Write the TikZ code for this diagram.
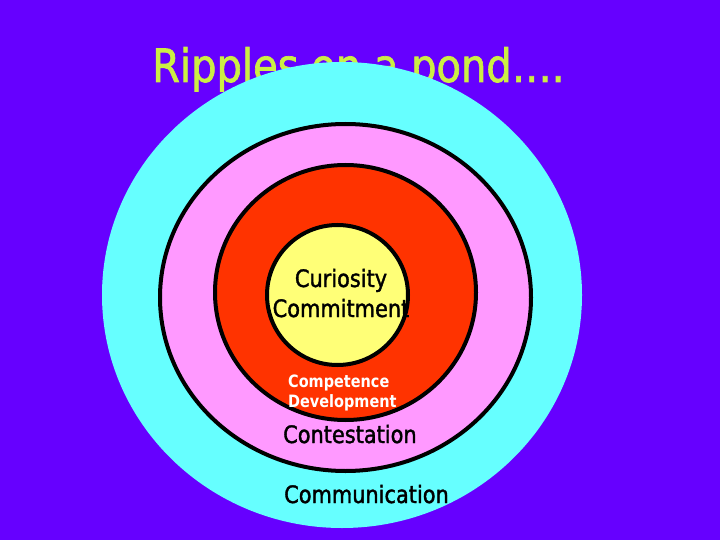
\documentclass[tikz,border=0pt]{standalone}
\usepackage{fontspec}
\setmainfont{DejaVu Sans}
\newfontfamily\comicfont[FakeStretch=0.87,FakeBold=1.5]{DejaVu Sans}
\newfontfamily\comicbf[FakeStretch=0.85]{DejaVu Sans}
\definecolor{bgpurple}{HTML}{6600FF}
\definecolor{titlecol}{HTML}{CCEE44}
\definecolor{ripcyan}{HTML}{66FFFF}
\definecolor{rippink}{HTML}{FF99FF}
\definecolor{ripred}{HTML}{FF3300}
\definecolor{ripyellow}{HTML}{FFFF77}
\tikzset{
  ring/.style={draw=black, line width=4pt},
  lbl/.style={anchor=base west, inner sep=0pt, text=black, font=\comicfont\fontsize{24}{28}\selectfont},
  lblmid/.style={anchor=base, inner sep=0pt, text=black, font=\comicfont\fontsize{24}{28}\selectfont},
  lblsmall/.style={anchor=base west, inner sep=0pt, text=white, font=\comicbf\bfseries\fontsize{17}{20}\selectfont},
}
\begin{document}
\begin{tikzpicture}[x=1pt,y=-1pt]
\useasboundingbox (0,0) rectangle (720,540);
\fill[bgpurple] (0,0) rectangle (720,540);
\node[anchor=base west, inner sep=0pt, text=titlecol, font=\comicfont\fontsize{46}{54}\selectfont] (title) at (152,82) {Ripples on a pond….};
\fill[ripcyan] (342,295) ellipse [x radius=240pt, y radius=233pt];
\filldraw[fill=rippink, ring] (345.5,297.5) ellipse [x radius=185.5pt, y radius=173.5pt];
\filldraw[fill=ripred, ring] (345.5,292.5) ellipse [x radius=130.5pt, y radius=127.5pt];
\filldraw[fill=ripyellow, ring] (337.5,295) ellipse [x radius=70.5pt, y radius=70pt];
\node[lblmid] (cur) at (341,287) {Curiosity};
\node[lblmid] (com) at (341,317) {Commitment};
\node[lblsmall] (cmp) at (288,387) {Competence};
\node[lblsmall] (dev) at (288,407) {Development};
\node[lbl] (cst) at (283,443) {Contestation};
\node[lbl] (cmm) at (284,503) {Communication};
\end{tikzpicture}
\end{document}
